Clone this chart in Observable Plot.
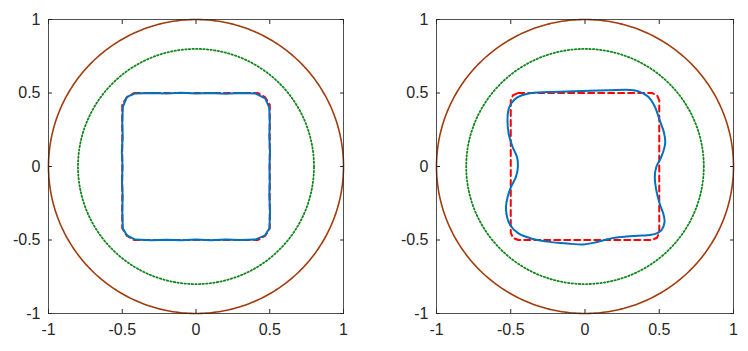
<!DOCTYPE html>
<html>
<head>
<meta charset="utf-8">
<script src="https://cdn.jsdelivr.net/npm/d3@7"></script>
<script src="https://cdn.jsdelivr.net/npm/@observablehq/plot@0.6"></script>
<style>
  body { margin: 0; background: #fff; }
  #wrap { position: relative; width: 748px; height: 351px; }
  #wrap > div, #wrap > svg { position: absolute; top: 0; }
  #wrap svg text { font-size: 16px !important; font-family: 'Liberation Sans', Arial, sans-serif !important; fill: #262626; }
</style>
</head>
<body>
<div id="wrap"></div>
<script>
// Tick values / labels
const tickValues = [-1, -0.5, 0, 0.5, 1];
const tickLabels = ["-1", "-0.5", "0", "0.5", "1"];

// Circle radii (outer solid, inner dotted)
const outerRadius = 1;
const innerRadius = 0.8;

// Left panel target square (red dashed)
const leftTarget = [
  [-0.42, 0.5], [0.42, 0.5], [0.47, 0.47], [0.5, 0.42],
  [0.5, -0.42], [0.47, -0.47], [0.42, -0.5],
  [-0.42, -0.5], [-0.47, -0.47], [-0.5, -0.42],
  [-0.5, 0.42], [-0.47, 0.47]
];

// Right panel target square (red dashed), rounded corners
const rightTarget = [
  [-0.45, 0.5], [0.45, 0.5], [0.485, 0.485], [0.5, 0.45],
  [0.5, -0.45], [0.485, -0.485], [0.45, -0.5],
  [-0.45, -0.5], [-0.485, -0.485], [-0.5, -0.45],
  [-0.5, 0.45], [-0.485, 0.485]
];

// Left panel: reconstructed boundary (blue)
const leftCurve = [
  [-0.412, 0.497], [-0.3, 0.500], [-0.2, 0.497], [-0.1, 0.502], [0.0, 0.497], [0.1, 0.500], [0.2, 0.495], [0.3, 0.500], [0.401, 0.497],
  [0.469, 0.464], [0.497, 0.400],
  [0.500, 0.3], [0.497, 0.2], [0.502, 0.1], [0.498, 0.0], [0.500, -0.1], [0.497, -0.2], [0.502, -0.3], [0.498, -0.42],
  [0.469, -0.468], [0.401, -0.497],
  [0.3, -0.500], [0.2, -0.496], [0.1, -0.501], [0.0, -0.497], [-0.1, -0.502], [-0.2, -0.498], [-0.3, -0.501], [-0.412, -0.497],
  [-0.468, -0.468], [-0.496, -0.422],
  [-0.500, -0.3], [-0.497, -0.2], [-0.502, -0.1], [-0.498, 0.0], [-0.503, 0.1], [-0.497, 0.2], [-0.500, 0.3], [-0.496, 0.405],
  [-0.468, 0.474]
];

// Right panel: reconstructed boundary (blue)
const rightCurve = [
  [-0.453, 0.472], [-0.386, 0.495], [-0.251, 0.506], [-0.071, 0.512], [0.154, 0.518], [0.300, 0.521], [0.357, 0.513],
  [0.424, 0.476], [0.469, 0.410], [0.503, 0.314], [0.532, 0.230], [0.540, 0.160], [0.514, 0.065], [0.480, -0.003],
  [0.470, -0.071], [0.478, -0.150], [0.503, -0.253], [0.527, -0.320], [0.536, -0.377], [0.514, -0.434], [0.460, -0.462],
  [0.379, -0.470], [0.280, -0.476], [0.199, -0.484], [0.132, -0.500], [0.064, -0.518], [-0.010, -0.530], [-0.116, -0.524],
  [-0.251, -0.511], [-0.363, -0.490], [-0.453, -0.452], [-0.503, -0.400], [-0.525, -0.343], [-0.532, -0.275],
  [-0.521, -0.207], [-0.498, -0.139], [-0.465, -0.071], [-0.452, -0.003], [-0.458, 0.065], [-0.487, 0.132],
  [-0.514, 0.223], [-0.522, 0.314], [-0.516, 0.382], [-0.495, 0.432]
];

// Colors
const colOuter = "#a23c0c";
const colInner = "#11861a";
const colTarget = "#ff0000";
const colCurve = "#0072bd";
const colAxis = "#262626";

function circlePts(r) {
  const n = 360;
  return d3.range(n + 1).map(i => {
    const a = (i / n) * 2 * Math.PI;
    return [r * Math.cos(a), r * Math.sin(a)];
  });
}

const fmt = d => tickLabels[tickValues.indexOf(d)];

function panel(curve, target, curveType, margins) {
  const axisCommon = { ticks: tickValues, tickSize: -4, stroke: colAxis, fill: colAxis, fontSize: 16 };
  return Plot.plot({
    width: 374,
    height: 351,
    marginLeft: margins.left,
    marginRight: margins.right,
    marginTop: 19,
    marginBottom: 38,
    style: { fontFamily: "'Liberation Sans', Arial, sans-serif", fontSize: "16px", background: "transparent", color: colAxis },
    x: { domain: [-1, 1] },
    y: { domain: [-1, 1] },
    marks: [
      Plot.line(circlePts(outerRadius), { x: d => d[0], y: d => d[1], stroke: colOuter, strokeWidth: 1.6 }),
      Plot.line(circlePts(innerRadius), { x: d => d[0], y: d => d[1], stroke: colInner, strokeWidth: 1.8, strokeDasharray: "1.4,2.2" }),
      Plot.line(target, { x: d => d[0], y: d => d[1], stroke: colTarget, strokeWidth: 2, strokeDasharray: "6,4", curve: "linear-closed" }),
      Plot.line(curve, { x: d => d[0], y: d => d[1], stroke: colCurve, strokeWidth: 2, curve: curveType }),
      Plot.frame({ stroke: colAxis, strokeWidth: 0.8 }),
      Plot.axisX({ ...axisCommon, anchor: "bottom", tickPadding: 14, tickFormat: fmt, label: null }),
      Plot.axisX({ ...axisCommon, anchor: "top", tickPadding: 0, tickFormat: () => "", label: null }),
      Plot.axisY({ ...axisCommon, anchor: "left", tickPadding: 12, tickFormat: fmt, label: null }),
      Plot.axisY({ ...axisCommon, anchor: "right", tickPadding: 0, tickFormat: () => "", label: null })
    ]
  });
}

const wrap = document.getElementById("wrap");
const p1 = panel(leftCurve, leftTarget, "linear-closed", { left: 48, right: 31 });
p1.style.left = "0px";
const p2 = panel(rightCurve, rightTarget, "catmull-rom-closed", { left: 62, right: 15 });
p2.style.left = "374px";
wrap.appendChild(p1);
wrap.appendChild(p2);
</script>
</body>
</html>
